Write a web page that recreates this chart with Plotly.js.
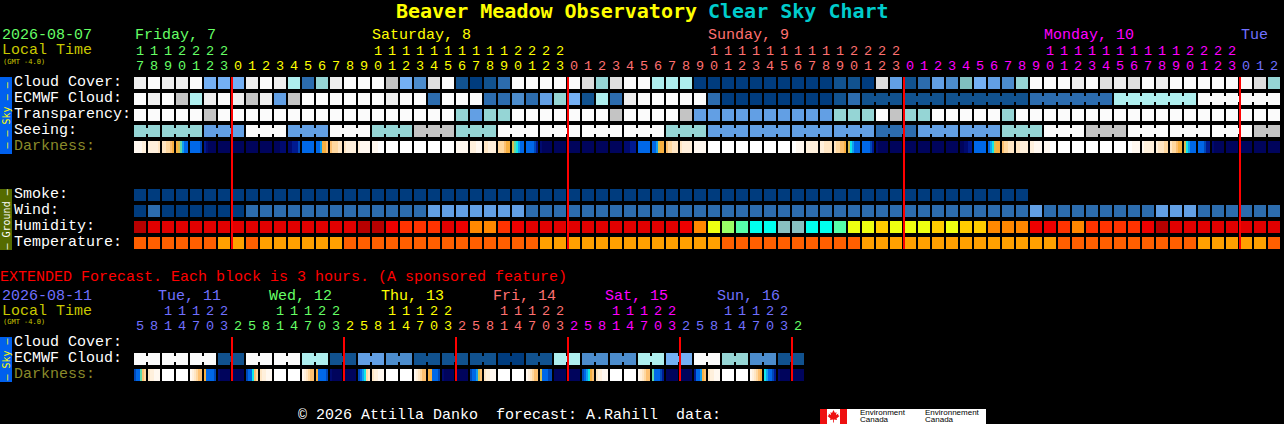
<!DOCTYPE html>
<html><head><meta charset="utf-8">
<script src="https://cdn.plot.ly/plotly-3.0.1.min.js"></script>
<style>html,body{margin:0;padding:0;background:#000;overflow:hidden}#chart{width:1284px;height:424px}</style>
</head><body><div id="chart"></div>
<script>
// ---------- palettes ----------
const skyColors = ['#003c7e','#11528f','#2c6cae','#4c8ccc','#629fe4','#74b0f4','#80bfbf','#95d5d5','#aeeeee','#c4c4c4','#dedede','#eeeeee','#fbfbfb'];
const humidityColors = ['#b80000','#e20000','#ee0000','#ff3300','#ff8800','#ffcc00','#eeff11','#99ff66','#55ffaa','#00ffee','#88c0c0'];
const temperatureColors = ['#ff5f00','#ffa000'];
const darkColors = ['#ffffff','#fff8f0','#fff0dc','#ffe6c4','#ffd8a0','#fdc070','#f8b040','#d8c050','#60d8a8','#10e8e8','#10a0f0','#0068e8','#0048b8','#001a90','#000a70','#00045c'];
const dayColors = ['#66ff66','#ffff00','#ff7070','#ff00ff','#7070ff'];

// ---------- main forecast (one block per hour) ----------
const hoursMain = [17,18,19,20,21,22,23,0,1,2,3,4,5,6,7,8,9,10,11,12,13,14,15,16,17,18,19,20,21,22,23,0,1,2,3,4,5,6,7,8,9,10,11,12,13,14,15,16,17,18,19,20,21,22,23,0,1,2,3,4,5,6,7,8,9,10,11,12,13,14,15,16,17,18,19,20,21,22,23,0,1,2];
const dayOfHourMain = [0,0,0,0,0,0,0,1,1,1,1,1,1,1,1,1,1,1,1,1,1,1,1,1,1,1,1,1,1,1,1,2,2,2,2,2,2,2,2,2,2,2,2,2,2,2,2,2,2,2,2,2,2,2,2,3,3,3,3,3,3,3,3,3,3,3,3,3,3,3,3,3,3,3,3,3,3,3,3,4,4,4];
const cloudCover = [11,12,11,11,12,5,5,5,11,12,11,8,2,7,11,12,12,12,9,5,3,10,12,1,0,1,2,12,12,12,12,12,10,7,10,12,12,8,8,8,0,0,0,0,0,0,0,0,0,0,1,1,0,10,4,1,2,4,3,6,5,4,3,7,12,12,12,11,12,10,11,10,12,11,12,12,12,12,12,12,10,7];
const ecmwfCloud = [12,11,12,9,8,11,12,11,9,11,4,9,12,12,12,12,12,12,11,12,12,2,12,12,12,2,2,3,2,4,7,5,1,8,2,11,12,12,12,12,12,2,0,0,0,0,0,0,0,0,1,2,1,1,1,1,1,1,1,1,1,1,1,1,2,2,2,2,2,2,8,8,8,8,8,8,12,12,12,12,12,12];
const ecmwfBlockEnds = [54,57,63,69,75,81];
const ecmwfBlockStart = 52;
const transparency = [12,12,12,12,12,9,12,12,12,12,12,12,12,12,12,12,12,12,12,12,12,12,12,7,4,7,7,12,12,12,12,12,12,12,9,12,12,12,12,9,4,4,4,4,4,4,4,4,4,4,7,7,7,12,9,7,7,12,12,12,12,12,7,12,12,12,12,12,12,12,12,12,12,12,12,12,12,12,12,12,12,12];
const seeing = [7,7,7,7,7,4,4,4,12,12,12,4,4,4,12,12,12,7,7,7,9,9,9,7,7,7,12,12,12,12,12,12,12,12,12,12,12,12,7,7,7,4,4,4,4,4,4,4,4,4,4,4,4,2,2,2,4,4,4,4,4,4,7,7,7,12,12,12,9,9,9,12,12,12,12,12,12,12,12,12,9,9];
const seeingBlockEnds = [1,4,7,10,13,16,19,22,25,28,31,34,37,40,43,46,49,52,55,58,61,64,67,70,73,76,79,81];
const darkness = [
[1,1,1,1,2,2],[2,2,2,2,2,3],[3,3,4,4,5,6],[6,7,8,10,11,11],[11,11,11,11,11,12],[13,14,15,15,15,15],[15,15,15,15,15,15],[15,15,15,15,15,15],[15,15,15,15,15,15],[15,15,15,15,15,15],[15,15,15,14,14,14],[14,14,13,13,13,12],[11,11,11,11,11,11],[11,11,10,6,6,5],[5,4,4,4,3,3],[3,2,2,2,2,2],[2,1,1,1,1,1],[1,1,1,0,0,0],[0,0,0,0,0,0],[0,0,0,0,0,0],[0,0,0,0,0,0],[0,0,0,0,0,0],[0,0,0,0,0,0],
[1,1,1,1,1,1],[2,2,2,1,1,1],[3,3,2,2,2,2],[4,4,4,5,6,6],[7,8,9,10,11,11],[11,11,11,11,12,13],[14,15,15,15,15,15],[15,15,15,15,15,15],[15,15,15,15,15,15],[15,15,15,15,15,15],[15,15,15,15,15,15],[15,15,15,15,15,15],[14,14,14,13,13,13],[11,11,11,11,11,11],[11,11,10,7,6,6],[5,4,4,3,3,3],[3,2,2,2,2,2],[1,1,1,1,1,1],[0,0,0,0,0,0],[0,0,0,0,0,0],[0,0,0,0,0,0],[0,0,0,0,0,0],[0,0,0,0,0,0],[0,0,0,0,0,0],
[0,0,1,1,1,1],[2,2,2,2,2,2],[2,2,3,3,3,3],[3,4,4,5,5,6],[7,9,10,11,11,11],[11,11,11,11,12,13],[14,15,15,15,15,15],[15,15,15,15,15,15],[15,15,15,15,15,15],[15,15,15,15,15,15],[15,15,15,15,15,15],[15,15,15,15,15,15],[15,15,14,14,13,13],[11,11,11,11,11,11],[11,10,9,7,6,6],[5,4,4,3,3,3],[3,3,2,2,2,2],[2,2,1,1,1,1],[1,1,1,0,0,0],[0,0,0,0,0,0],[0,0,0,0,0,0],[0,0,0,0,0,0],[0,0,0,0,0,0],[0,0,0,0,0,0],
[0,0,1,1,1,1],[1,2,2,2,2,2],[2,3,3,3,4,4],[3,4,4,5,6,6],[7,9,10,11,11,11],[11,11,11,12,13,13],[14,15,15,15,15,15],[15,15,15,15,15,15],[15,15,15,15,15,15],[15,15,15,15,15,15],[15,15,15,15,15,15]];
const smoke = [0,0,0,0,0,0,0,0,0,0,0,0,0,0,0,0,0,0,0,0,0,0,0,0,0,0,0,0,0,0,0,0,0,0,0,0,0,0,0,0,0,0,0,0,0,0,0,0,0,0,0,0,0,0,0,0,0,0,0,0,0,0,0,0];
const wind = [0,2,0,0,0,0,0,0,2,2,2,2,2,2,2,2,2,2,2,2,2,4,4,4,4,4,4,4,2,2,2,2,2,2,2,2,2,2,2,2,2,2,2,2,2,2,2,2,2,2,2,2,2,2,2,2,2,2,2,2,2,2,2,2,4,2,2,2,2,2,2,2,2,4,4,4,2,2,2,2,2,2];
const humidity = [0,1,1,1,1,1,1,1,1,1,1,1,1,1,1,1,0,0,2,3,3,3,1,2,4,4,3,2,1,1,1,1,1,1,1,1,1,1,1,2,4,6,7,8,9,9,10,10,9,9,8,6,6,5,6,6,6,5,6,5,5,4,4,4,2,2,3,4,3,3,3,3,2,0,1,1,1,1,1,1,1,1];
const temperature = [0,0,0,0,0,0,1,1,0,1,1,1,1,1,1,0,0,0,0,0,0,0,0,0,0,0,0,0,0,1,1,1,1,1,1,1,1,1,1,1,1,1,0,0,0,0,0,0,0,0,0,0,1,1,1,1,1,1,1,1,1,1,1,1,1,1,0,0,0,0,0,0,0,0,0,0,1,1,1,1,1,0];
const midnightsMain = [7,31,55,79];

// ---------- extended forecast (one block per 3 hours) ----------
const hoursExt = [5,8,11,14,17,20,23,2,5,8,11,14,17,20,23,2,5,8,11,14,17,20,23,2,5,8,11,14,17,20,23,2,5,8,11,14,17,20,23,2,5,8,11,14,17,20,23,2];
const dayOfHourExt = [4,4,4,4,4,4,4,0,0,0,0,0,0,0,0,1,1,1,1,1,1,1,1,2,2,2,2,2,2,2,2,3,3,3,3,3,3,3,3,4,4,4,4,4,4,4,4,0];
const ecmwfExt = [12,12,12,12,12,12,1,1,12,12,12,12,8,8,1,1,4,4,3,3,1,1,1,1,1,1,0,0,1,1,8,8,3,3,3,3,8,8,5,5,12,12,7,7,3,3,1,1];
const ecmwfExtBlockEnds = [1,3,5,7,9,11,13,15,17,19,21,23,25,27,29,31,33,35,37,39,41,43,45,47];
const darknessExt = [
[12,11,11,8,5,4],[3,2,2,1,1,1],[0,0,0,0,0,0],[0,0,0,0,0,0],[1,2,3,4,5,5],[6,11,11,11,11,12],[14,15,15,15,15,15],[15,15,15,15,15,15],
[12,11,11,9,5,4],[3,2,2,1,1,1],[0,0,0,0,0,0],[0,0,0,0,0,0],[1,2,3,4,5,5],[6,11,11,11,11,12],[14,15,15,15,15,15],[15,15,15,15,15,15],
[12,11,10,9,4,3],[3,2,2,1,1,1],[0,0,0,0,0,0],[0,0,0,0,0,0],[1,2,3,4,5,5],[6,6,11,11,11,12],[14,15,15,15,15,15],[15,15,15,15,15,15],
[12,11,11,10,7,5],[3,2,2,1,1,1],[0,0,0,0,0,0],[0,0,0,0,0,0],[1,2,3,4,5,5],[7,11,11,11,12,12],[15,15,15,15,15,15],[15,15,15,15,15,15],
[12,11,10,9,6,5],[3,2,2,1,1,1],[0,0,0,0,0,0],[0,0,0,0,0,0],[1,2,3,4,5,5],[8,11,11,11,12,13],[15,15,15,15,15,15],[15,15,15,15,15,15],
[13,11,11,10,6,5],[3,2,2,1,1,1],[0,0,0,0,0,0],[0,0,0,0,0,0],[1,2,3,4,5,6],[9,10,11,11,12,13],[14,15,15,15,15,15],[15,15,15,15,15,15]];
const midnightsExt = [7,15,23,31,39,47];

// ---------- row order on the y axis ----------
const ROW = {cloud:0, ecmwf:1, transp:2, seeing:3, dark:4, smoke:7, wind:8, humidity:9, temp:10, xEcmwf:17.25, xDark:18.25};
const W = 1284, H = 424, CELL = 14, ROWH = 16, X0 = 140, Y0 = 83, BLOCK = 12, FONT = '"Liberation Mono", monospace', BOLD = '"DejaVu Sans Mono", monospace';
const rowOfPx = p => (p - Y0) / ROWH;
const cellOfPx = p => (p - X0) / CELL;

const traces = [];
function cells(name, row, values, palette) {
  traces.push({type:'scatter', mode:'markers', name, hoverinfo:'skip', x:values.map((_,i)=>i), y:values.map(()=>row),
    marker:{symbol:'square', size:BLOCK, color:values.map(v=>palette[v]), line:{width:0}}});
}
function bridges(name, row, values, palette, start, ends) {
  const byColor = {};
  for (let i = start; i < values.length - 1; i++) {
    if (ends.includes(i)) continue;
    (byColor[values[i]] = byColor[values[i]] || []).push(i);
  }
  for (const v in byColor) {
    const x = [], y = [];
    byColor[v].forEach(i => { x.push(i, i + 1, null); y.push(row, row, null); });
    traces.push({type:'scatter', mode:'lines', name:name+' block', hoverinfo:'skip', x, y, line:{color:palette[v], width:6}, connectgaps:false});
  }
}
function gradient(name, row, samples) {
  const step = BLOCK / CELL / 6, xEdges = [], z = [];
  samples.forEach((s, i) => {
    const left = i - BLOCK / CELL / 2;
    s.forEach((v, j) => { xEdges.push(left + j * step); z.push(v); });
    xEdges.push(left + 6 * step); z.push(null);
  });
  xEdges.push(samples.length - 1 + 1);
  traces.push({type:'heatmap', name, hoverinfo:'skip', x:xEdges, y:[row - BLOCK/ROWH/2, row + BLOCK/ROWH/2], z:[z],
    zmin:0, zmax:darkColors.length - 1, zsmooth:false, showscale:false,
    colorscale:darkColors.map((c,i)=>[i/(darkColors.length-1), c])});
}
function midnightLines(name, list, fromPx, toPx) {
  const x = [], y = [];
  list.forEach(m => { const e = m - BLOCK/CELL/2; x.push(e, e, null); y.push(rowOfPx(fromPx), rowOfPx(toPx), null); });
  traces.push({type:'scatter', mode:'lines', name, hoverinfo:'skip', x, y, line:{color:'#ff0000', width:2}});
}
function hourText(hours, days, tensPx, onesPx) {
  const colors = days.map(d => dayColors[d]), xs = hours.map((_,i)=>i);
  traces.push({type:'scatter', mode:'text', hoverinfo:'skip', x:xs, y:hours.map(()=>rowOfPx(tensPx)), text:hours.map(h=>h>=10?String(Math.floor(h/10)):''), textposition:'middle center', textfont:{family:FONT, size:13.5, color:colors}});
  traces.push({type:'scatter', mode:'text', hoverinfo:'skip', x:xs, y:hours.map(()=>rowOfPx(onesPx)), text:hours.map(h=>String(h%10)), textposition:'middle center', textfont:{family:FONT, size:13.5, color:colors}});
}

bridges('ECMWF Cloud', ROW.ecmwf, ecmwfCloud, skyColors, ecmwfBlockStart, ecmwfBlockEnds);
bridges('Seeing', ROW.seeing, seeing, skyColors, 0, seeingBlockEnds);
bridges('ECMWF ext', ROW.xEcmwf, ecmwfExt, skyColors, 0, ecmwfExtBlockEnds);
cells('Cloud Cover', ROW.cloud, cloudCover, skyColors);
cells('ECMWF Cloud', ROW.ecmwf, ecmwfCloud, skyColors);
cells('Transparency', ROW.transp, transparency, skyColors);
cells('Seeing', ROW.seeing, seeing, skyColors);
gradient('Darkness', ROW.dark, darkness);
cells('Smoke', ROW.smoke, smoke, skyColors);
cells('Wind', ROW.wind, wind, skyColors);
cells('Humidity', ROW.humidity, humidity, humidityColors);
cells('Temperature', ROW.temp, temperature, temperatureColors);
cells('ECMWF ext', ROW.xEcmwf, ecmwfExt, skyColors);
gradient('Darkness ext', ROW.xDark, darknessExt);
midnightLines('Midnight', midnightsMain, 77, 249);
midnightLines('Midnight ext', midnightsExt, 337, 381);
hourText(hoursMain, dayOfHourMain, 51.5, 67);
hourText(hoursExt, dayOfHourExt, 312, 327);

// ---------- text and frame, placed in page pixels ----------
const ann = [];
function T(px, py, text, color, size, o) {
  o = o || {};
  const dy = o.family ? 0 : 1;
  ann.push({xref:'paper', yref:'paper', x:px/W, y:1-(py+dy)/H, xanchor:o.anchor||'left', yanchor:'middle', text, showarrow:false, borderpad:0, borderwidth:0,
    textangle:o.angle||0, font:{family:o.family||FONT, size, color}});
}
const WHITE='#ffffff', OLIVE='#8a8a2a', LOCAL='#c8c800';
T(396,11,'<b>Beaver Meadow Observatory</b>','#ffff00',20,{family:BOLD});
T(708,11,'<b>Clear Sky Chart</b>','#00cccc',20,{family:BOLD});
T(2,35,'2026-08-07','#66ff66',15); T(2,50,'Local Time',LOCAL,15); T(3,62,'(GMT -4.0)',LOCAL,7,{family:BOLD});
T(135,35,'Friday, 7',dayColors[0],15); T(372,35,'Saturday, 8',dayColors[1],15); T(708,35,'Sunday, 9',dayColors[2],15); T(1044,35,'Monday, 10',dayColors[3],15); T(1241,35,'Tue',dayColors[4],15);
[['Cloud Cover:',81.5],['ECMWF Cloud:',97.5],['Transparency:',113.5],['Seeing:',129.5]].forEach(a=>T(14,a[1],a[0],WHITE,15));
T(14,145.5,'Darkness:',OLIVE,15);
[['Smoke:',193.5],['Wind:',209.5],['Humidity:',225.5],['Temperature:',241.5]].forEach(a=>T(14,a[1],a[0],WHITE,15));
T(0,276,'EXTENDED Forecast. Each block is 3 hours. (A sponsored feature)','#ff0000',15);
T(2,295,'2026-08-11','#7070ff',15); T(2,310.5,'Local Time',LOCAL,15); T(3,322,'(GMT -4.0)',LOCAL,7,{family:BOLD});
[['Tue, 11',158,4],['Wed, 12',269,0],['Thu, 13',381,1],['Fri, 14',493,2],['Sat, 15',605,3],['Sun, 16',717,4]].forEach(a=>T(a[1],295,a[0],dayColors[a[2]],15));
T(14,341.5,'Cloud Cover:',WHITE,15); T(14,357.5,'ECMWF Cloud:',WHITE,15); T(14,373.5,'Darkness:',OLIVE,15);
T(298,414,'© 2026 Attilla Danko  forecast: A.Rahill  data:',WHITE,15);
T(6,115.5,'– – Sky – –','#ffff00',10,{anchor:'center',angle:-90,family:BOLD});
T(6,219.5,'– Ground –',WHITE,10,{anchor:'center',angle:-90,family:BOLD});
T(6,359.5,'– Sky –','#ffff00',10,{anchor:'center',angle:-90,family:BOLD});
T(860,412,'Environment','#000000',8,{family:'"Liberation Sans"'});
T(860,419,'Canada','#000000',8,{family:'"Liberation Sans"'});
T(925,412,'Environnement','#000000',8,{family:'"Liberation Sans"'});
T(925,419,'Canada','#000000',8,{family:'"Liberation Sans"'});

function R(x0,y0,x1,y1,c){return {type:'rect',xref:'paper',yref:'paper',x0:x0/W,x1:x1/W,y0:1-y0/H,y1:1-y1/H,fillcolor:c,line:{width:0},layer:'below'};}
const leaf = [[0,-6],[1.5,-3],[3,-4],[2.5,-1],[5,-2.5],[4.5,-1],[6,0],[3,2.5],[3.5,4],[0.4,3.5],[0.4,6.5],[-0.4,6.5],[-0.4,3.5],[-3.5,4],[-3,2.5],[-6,0],[-4.5,-1],[-5,-2.5],[-2.5,-1],[-3,-4],[-1.5,-3]];
const leafPath = leaf.map((p,i)=>(i?'L':'M')+((833.5+p[0])/W)+','+(1-(416+p[1])/H)).join(' ')+' Z';
const shapes = [R(0,77,12,154,'#0060ee'),R(0,189,12,250,'#556b00'),R(0,337,12,382,'#0060ee'),
  R(820,409,986,424,'#ffffff'),R(820,409,827,424,'#ee1111'),R(840,409,847,424,'#ee1111'),
  {type:'path',xref:'paper',yref:'paper',path:leafPath,fillcolor:'#ee1111',line:{width:0}}];

const hiddenAxis = {showgrid:false, zeroline:false, showticklabels:false, ticks:'', showline:false, fixedrange:true, domain:[0,1]};
const layout = {width:W, height:H, margin:{l:0,r:0,t:0,b:0,pad:0}, paper_bgcolor:'#000000', plot_bgcolor:'rgba(0,0,0,0)', showlegend:false,
  xaxis:Object.assign({}, hiddenAxis, {range:[cellOfPx(0), cellOfPx(W)]}),
  yaxis:Object.assign({}, hiddenAxis, {range:[rowOfPx(H), rowOfPx(0)]}),
  annotations:ann, shapes};
Plotly.newPlot('chart', traces, layout, {displayModeBar:false, staticPlot:true});
</script></body></html>
